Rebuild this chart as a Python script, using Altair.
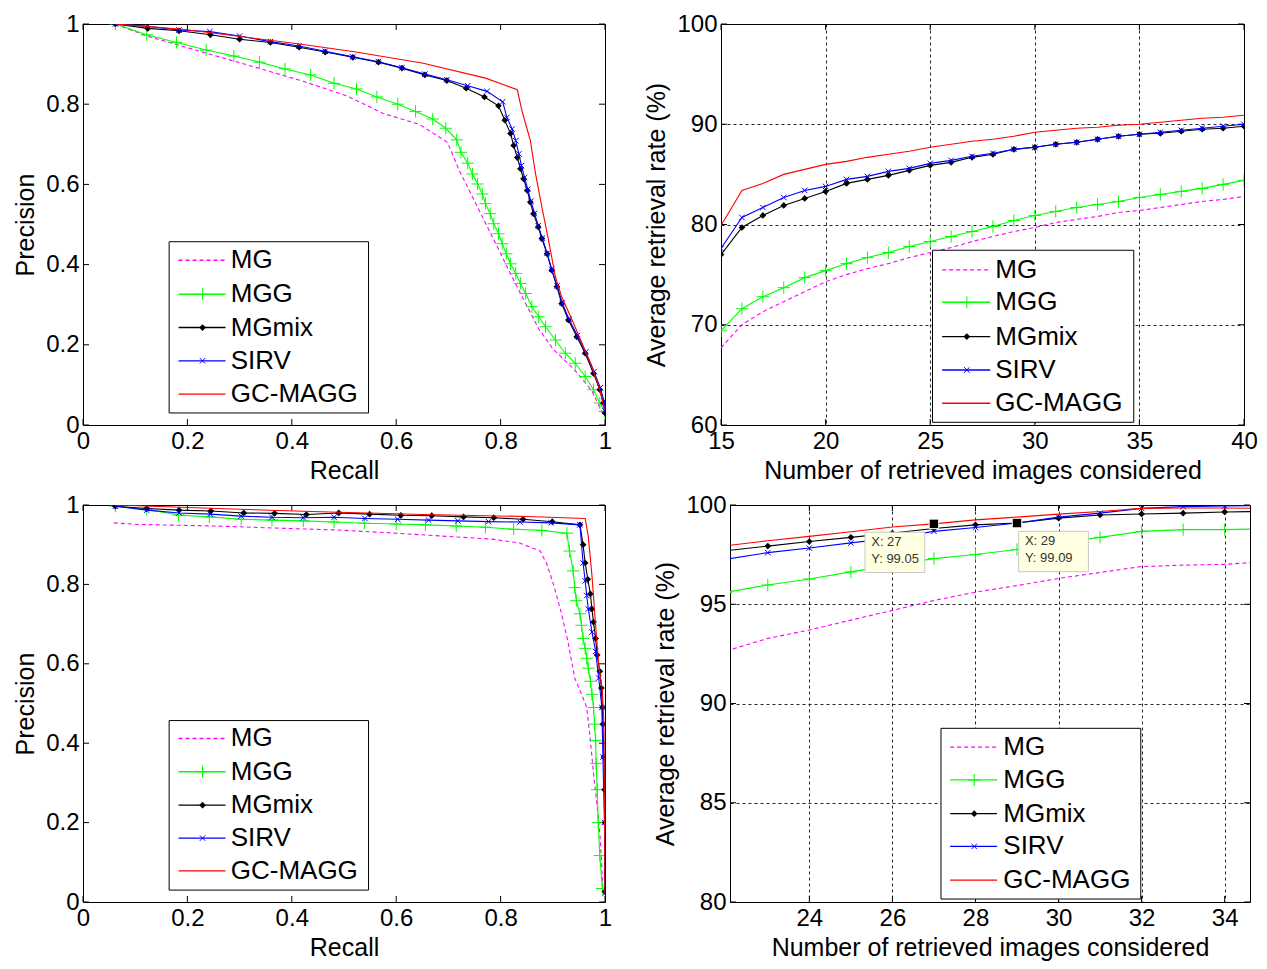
import altair as alt
import pandas as pd

SERIES = ["MG", "MGG", "MGmix", "SIRV", "GC-MAGG"]
COLORS = {"MG": "#ff00ff", "MGG": "#00ff00", "MGmix": "#000000",
          "SIRV": "#0000ff", "GC-MAGG": "#ff0000"}
DASH = {"MG": [4, 3]}
PLUS = "M-1,0L1,0M0,-1L0,1"
XMARK = "M-1,-1L1,1M-1,1L1,-1"
HLINE = "M-1,0L1,0"
MARKERS = {
    "MGG": dict(shape=PLUS, filled=False, size=150, strokeWidth=1),
    "MGmix": dict(shape="diamond", filled=True, size=45),
    "SIRV": dict(shape=XMARK, filled=False, size=30, strokeWidth=1),
}

# ---------------- top-left: precision / recall ----------------
tl_mg_r = [0.062, 0.125, 0.237, 0.336, 0.422, 0.507, 0.575, 0.644, 0.698, 0.705, 0.721, 0.737,
           0.756, 0.778, 0.797, 0.822, 0.848, 0.873, 0.900, 0.940, 0.975, 0.995]
tl_mg_p = [1.000, 0.969, 0.927, 0.890, 0.857, 0.820, 0.777, 0.750, 0.705, 0.684, 0.634, 0.593,
           0.543, 0.485, 0.436, 0.369, 0.303, 0.240, 0.190, 0.140, 0.085, 0.030]
tl_mgg_r = [0.062, 0.122, 0.179, 0.236, 0.289, 0.338, 0.387, 0.436, 0.481, 0.524, 0.563, 0.603,
            0.637, 0.670, 0.695, 0.716, 0.724, 0.737, 0.746, 0.756, 0.765, 0.771, 0.780, 0.787,
            0.796, 0.803, 0.811, 0.819, 0.829, 0.838, 0.848, 0.860, 0.873, 0.886, 0.905, 0.924,
            0.943, 0.962, 0.978, 0.990, 0.999]
tl_mgg_p = [1.000, 0.973, 0.954, 0.935, 0.920, 0.905, 0.888, 0.873, 0.852, 0.838, 0.818, 0.800,
            0.782, 0.763, 0.740, 0.711, 0.680, 0.653, 0.626, 0.601, 0.576, 0.552, 0.527, 0.502,
            0.477, 0.452, 0.427, 0.402, 0.378, 0.353, 0.328, 0.295, 0.270, 0.245, 0.212, 0.179,
            0.154, 0.121, 0.088, 0.055, 0.034]
tl_mix_r = [0.062, 0.124, 0.184, 0.244, 0.300, 0.359, 0.414, 0.464, 0.517, 0.566, 0.611, 0.655,
            0.697, 0.734, 0.769, 0.796, 0.808, 0.819, 0.825, 0.832, 0.838, 0.844, 0.851, 0.857,
            0.863, 0.872, 0.879, 0.889, 0.898, 0.908, 0.917, 0.930, 0.946, 0.962, 0.978, 0.990,
            0.997, 1.000]
tl_mix_p = [1.000, 0.989, 0.983, 0.973, 0.962, 0.954, 0.942, 0.930, 0.917, 0.905, 0.890, 0.873,
            0.859, 0.840, 0.818, 0.796, 0.760, 0.727, 0.697, 0.667, 0.639, 0.614, 0.585, 0.556,
            0.527, 0.494, 0.465, 0.427, 0.386, 0.345, 0.303, 0.262, 0.220, 0.179, 0.129, 0.088,
            0.055, 0.030]
tl_sirv_r = [0.062, 0.124, 0.184, 0.243, 0.300, 0.359, 0.414, 0.464, 0.517, 0.566, 0.611, 0.655,
             0.697, 0.737, 0.774, 0.804, 0.812, 0.822, 0.829, 0.835, 0.840, 0.846, 0.852, 0.858,
             0.865, 0.872, 0.880, 0.889, 0.898, 0.908, 0.918, 0.931, 0.947, 0.963, 0.979, 0.991,
             0.998, 1.000]
tl_sirv_p = [1.000, 0.994, 0.985, 0.981, 0.970, 0.956, 0.945, 0.932, 0.918, 0.906, 0.891, 0.875,
             0.861, 0.846, 0.832, 0.806, 0.767, 0.738, 0.709, 0.676, 0.647, 0.617, 0.588, 0.558,
             0.528, 0.497, 0.466, 0.428, 0.388, 0.347, 0.305, 0.264, 0.223, 0.182, 0.133, 0.093,
             0.060, 0.035]
tl_gc_r = [0.062, 0.191, 0.415, 0.520, 0.652, 0.771, 0.797, 0.832, 0.841, 0.857, 0.867, 0.879,
           0.892, 0.905, 0.917, 0.937, 0.956, 0.975, 0.990, 0.999]
tl_gc_p = [1.000, 0.987, 0.950, 0.931, 0.902, 0.865, 0.853, 0.836, 0.783, 0.709, 0.626, 0.544,
           0.460, 0.369, 0.320, 0.262, 0.204, 0.146, 0.088, 0.038]

# ---------------- bottom-left: precision / recall ----------------
bl_mg_r = [0.059, 0.105, 0.257, 0.389, 0.488, 0.586, 0.685, 0.784, 0.837, 0.876, 0.889, 0.902,
           0.916, 0.929, 0.942, 0.958, 0.965, 0.972, 0.978, 0.985, 0.991, 0.996]
bl_mg_p = [0.955, 0.951, 0.947, 0.941, 0.937, 0.930, 0.922, 0.914, 0.904, 0.884, 0.850, 0.797,
           0.730, 0.656, 0.564, 0.514, 0.490, 0.407, 0.324, 0.241, 0.158, 0.034]
bl_mgg_r = [0.062, 0.122, 0.183, 0.242, 0.303, 0.362, 0.422, 0.481, 0.539, 0.600, 0.656, 0.715,
            0.771, 0.825, 0.879, 0.927, 0.932, 0.939, 0.942, 0.945, 0.952, 0.955, 0.958, 0.962,
            0.965, 0.968, 0.972, 0.975, 0.978, 0.980, 0.982, 0.983, 0.985, 0.987, 0.990, 0.995]
bl_mgg_p = [0.997, 0.989, 0.975, 0.970, 0.964, 0.962, 0.960, 0.957, 0.954, 0.952, 0.950, 0.947,
            0.944, 0.939, 0.936, 0.929, 0.884, 0.834, 0.792, 0.759, 0.726, 0.697, 0.664, 0.639,
            0.614, 0.589, 0.556, 0.523, 0.490, 0.448, 0.407, 0.349, 0.283, 0.200, 0.117, 0.034]
bl_mix_r = [0.062, 0.122, 0.184, 0.245, 0.308, 0.367, 0.428, 0.490, 0.549, 0.609, 0.668, 0.729,
            0.787, 0.843, 0.899, 0.952, 0.958, 0.962, 0.967, 0.972, 0.975, 0.978, 0.982, 0.985,
            0.990, 0.993, 0.995, 0.996, 0.998, 0.999, 1.000, 1.000]
bl_mix_p = [0.997, 0.991, 0.987, 0.985, 0.980, 0.979, 0.976, 0.980, 0.977, 0.974, 0.973, 0.970,
            0.968, 0.964, 0.958, 0.950, 0.900, 0.854, 0.813, 0.776, 0.738, 0.705, 0.664, 0.622,
            0.581, 0.539, 0.490, 0.448, 0.365, 0.283, 0.200, 0.026]
bl_sirv_r = [0.062, 0.122, 0.184, 0.244, 0.303, 0.362, 0.422, 0.481, 0.540, 0.603, 0.662, 0.718,
             0.777, 0.837, 0.897, 0.952, 0.958, 0.962, 0.965, 0.968, 0.975, 0.982, 0.988, 0.994,
             0.996, 0.999, 1.000]
bl_sirv_p = [0.997, 0.987, 0.980, 0.977, 0.972, 0.969, 0.968, 0.969, 0.966, 0.964, 0.962, 0.960,
             0.958, 0.957, 0.955, 0.950, 0.854, 0.809, 0.772, 0.738, 0.680, 0.631, 0.564, 0.490,
             0.365, 0.200, 0.022]
bl_gc_r = [0.062, 0.257, 0.455, 0.652, 0.850, 0.962, 0.968, 0.975, 0.982, 0.988, 0.995, 0.998, 1.000]
bl_gc_p = [1.000, 0.991, 0.983, 0.976, 0.971, 0.966, 0.921, 0.822, 0.697, 0.597, 0.531, 0.448, 0.022]

# ---------------- top-right: retrieval rate, N = 15..40 ----------------
tr_n = list(range(15, 41))
tr_mg = [67.7, 70.0, 71.3, 72.3, 73.3, 74.3, 75.0, 75.6, 76.1, 76.7, 77.2, 77.7, 78.3,
         78.8, 79.3, 79.7, 80.2, 80.5, 80.8, 81.2, 81.4, 81.7, 82.0, 82.3, 82.5, 82.8]
tr_mgg = [69.4, 71.6, 72.8, 73.7, 74.7, 75.4, 76.1, 76.7, 77.2, 77.8, 78.3, 78.8, 79.3,
          79.8, 80.4, 80.9, 81.3, 81.7, 82.0, 82.3, 82.7, 83.0, 83.3, 83.6, 84.0, 84.4]
tr_mix = [77.0, 79.7, 80.9, 81.9, 82.6, 83.3, 84.1, 84.5, 84.9, 85.4, 85.9, 86.2, 86.7,
          87.0, 87.5, 87.7, 88.0, 88.2, 88.5, 88.8, 89.0, 89.1, 89.3, 89.5, 89.6, 89.8]
tr_sirv = [77.6, 80.7, 81.7, 82.7, 83.4, 83.8, 84.5, 84.8, 85.3, 85.6, 86.1, 86.4, 86.8,
           87.1, 87.5, 87.7, 88.0, 88.2, 88.5, 88.8, 89.0, 89.2, 89.4, 89.6, 89.8, 90.0]
tr_gc = [79.9, 83.4, 84.1, 85.0, 85.5, 86.0, 86.3, 86.7, 87.0, 87.3, 87.7, 88.0, 88.3,
         88.5, 88.8, 89.2, 89.4, 89.6, 89.7, 89.9, 90.0, 90.2, 90.4, 90.6, 90.7, 90.9]

# ---------------- bottom-right: retrieval rate, N = 22..35 ----------------
br_n = list(range(22, 36))
br_mg = [92.65, 93.28, 93.70, 94.20, 94.69, 95.19, 95.61, 95.94, 96.30, 96.60, 96.90, 96.97, 97.01, 97.15]
br_mgg = [95.60, 95.97, 96.27, 96.63, 96.97, 97.30, 97.51, 97.76, 98.09, 98.37, 98.67, 98.76, 98.76, 98.80]
br_mix = [97.70, 97.93, 98.16, 98.37, 98.59, 98.82, 99.00, 99.09, 99.34, 99.50, 99.55, 99.59, 99.65, 99.68]
br_sirv = [97.27, 97.60, 97.83, 98.09, 98.34, 98.67, 98.87, 99.09, 99.39, 99.59, 99.83, 99.92, 99.95, 99.97]
br_gc = [97.95, 98.20, 98.42, 98.65, 98.89, 99.05, 99.25, 99.39, 99.54, 99.67, 99.83, 99.85, 99.85, 99.83]

# data tips in the bottom-right panel
tip_x = [27, 29]
tip_y = [99.05, 99.09]

# axis ticks
pr_ticks = [0, 0.2, 0.4, 0.6, 0.8, 1]
tr_xticks = [15, 20, 25, 30, 35, 40]
tr_yticks = [60, 70, 80, 90, 100]
br_xticks = [24, 26, 28, 30, 32, 34]
br_yticks = [80, 85, 90, 95, 100]

FONT = "Liberation Sans"


def panel(pid, data, xdom, ydom, xticks, yticks, xtitle, ytitle, grid, leg, w, h, extra=None):
    xs = alt.Scale(domain=xdom, nice=False, zero=False)
    ys = alt.Scale(domain=ydom, nice=False, zero=False)
    xa = alt.Axis(values=xticks, title=xtitle, grid=grid, format="~r")
    ya = alt.Axis(values=yticks, title=ytitle, grid=grid, format="~r")

    def X(f):
        return alt.X(f, type="quantitative", scale=xs, axis=xa)

    def Y(f):
        return alt.Y(f, type="quantitative", scale=ys, axis=ya)

    layers = []
    # inward MATLAB-style ticks on all four sides
    lx = 6.0 / w * (xdom[1] - xdom[0])
    ly = 6.0 / h * (ydom[1] - ydom[0])
    rows = []
    for t in xticks:
        rows.append(dict(x=t, x2=t, y=ydom[0], y2=ydom[0] + ly))
        rows.append(dict(x=t, x2=t, y=ydom[1], y2=ydom[1] - ly))
    for t in yticks:
        rows.append(dict(x=xdom[0], x2=xdom[0] + lx, y=t, y2=t))
        rows.append(dict(x=xdom[1], x2=xdom[1] - lx, y=t, y2=t))
    tdf = pd.DataFrame(rows)
    tdf["panel"] = pid
    layers.append(alt.Chart(tdf).mark_rule(color="black", strokeWidth=1).encode(
        x=X("x"), x2="x2", y=Y("y"), y2="y2"))

    for s in SERIES:
        xv, yv = data[s]
        df = pd.DataFrame({"x": xv, "y": yv, "i": list(range(len(xv)))})
        df["panel"] = pid
        kw = dict(color=COLORS[s], strokeWidth=1.1, clip=True)
        if s in DASH:
            kw["strokeDash"] = DASH[s]
        layers.append(alt.Chart(df).mark_line(**kw).encode(x=X("x"), y=Y("y"), order="i:Q"))
        if s in MARKERS:
            layers.append(alt.Chart(df).mark_point(color=COLORS[s], clip=True, opacity=1,
                                                   **MARKERS[s]).encode(x=X("x"), y=Y("y")))

    if extra is not None:
        layers.extend(extra(X, Y))

    # legend: white box, labels, line samples (drawn as long horizontal symbols), markers
    box = pd.DataFrame([dict(x=leg["box"][0], x2=leg["box"][1], y=leg["box"][2], y2=leg["box"][3],
                             panel=pid)])
    layers.append(alt.Chart(box).mark_rect(fill="white", stroke="black", strokeWidth=1).encode(
        x=X("x"), x2="x2", y=Y("y"), y2="y2"))
    lab = pd.DataFrame({"x": [leg["tx"]] * 5, "y": leg["ys"], "s": SERIES, "panel": [pid] * 5})
    layers.append(alt.Chart(lab).mark_text(align="left", baseline="middle", fontSize=26, font=FONT,
                                           color="black").encode(x=X("x"), y=Y("y"), text="s:N"))
    seg_px = (leg["line"][1] - leg["line"][0]) / (xdom[1] - xdom[0]) * w
    cx = (leg["line"][0] + leg["line"][1]) / 2
    for k, s in enumerate(SERIES):
        sdf = pd.DataFrame({"x": [cx], "y": [leg["ys"][k]], "s": [s], "panel": [pid]})
        kw = dict(shape=HLINE, filled=False, size=seg_px ** 2, stroke=COLORS[s],
                  color=COLORS[s], strokeWidth=1.4, opacity=1)
        if s in DASH:
            kw["strokeDash"] = DASH[s]
        layers.append(alt.Chart(sdf).mark_point(**kw).encode(x=X("x"), y=Y("y")))
        if s in MARKERS:
            mk = pd.DataFrame({"x": [leg["mx"]], "y": [leg["ys"][k]], "s": [s], "panel": [pid]})
            layers.append(alt.Chart(mk).mark_point(color=COLORS[s], opacity=1,
                                                   **MARKERS[s]).encode(x=X("x"), y=Y("y")))
    return alt.layer(*layers).properties(width=w, height=h)


def tips(X, Y):
    offs = [(-1.66, -0.22), (0.04, 1.72)]
    rows = []
    for (tx, ty), (a, b) in zip(zip(tip_x, tip_y), offs):
        rows.append(dict(px=tx, py=ty, x=tx + a, x2=tx + b, y=ty - 0.42, y2=ty - 2.45,
                         tx=tx + a + 0.15, ty=ty - 0.62,
                         label=f"X: {tx}\nY: {ty:.2f}"))
    df = pd.DataFrame(rows)
    box = alt.Chart(df).mark_rect(fill="#ffffe1", stroke="#c8c8c8", strokeWidth=1).encode(
        x=X("x"), x2="x2", y=Y("y"), y2="y2")
    txt = alt.Chart(df).mark_text(align="left", baseline="top", fontSize=13, font=FONT,
                                  color="#333333", lineBreak="\n", lineHeight=17).encode(
        x=X("tx"), y=Y("ty"), text="label:N")
    sq = alt.Chart(df).mark_square(size=90, color="black", opacity=1, stroke="#ffffe1",
                                   strokeWidth=1).encode(x=X("px"), y=Y("py"))
    return [box, txt, sq]


tl_data = {"MG": (tl_mg_r, tl_mg_p), "MGG": (tl_mgg_r, tl_mgg_p), "MGmix": (tl_mix_r, tl_mix_p),
           "SIRV": (tl_sirv_r, tl_sirv_p), "GC-MAGG": (tl_gc_r, tl_gc_p)}
bl_data = {"MG": (bl_mg_r, bl_mg_p), "MGG": (bl_mgg_r, bl_mgg_p), "MGmix": (bl_mix_r, bl_mix_p),
           "SIRV": (bl_sirv_r, bl_sirv_p), "GC-MAGG": (bl_gc_r, bl_gc_p)}
tr_data = {"MG": (tr_n, tr_mg), "MGG": (tr_n, tr_mgg), "MGmix": (tr_n, tr_mix),
           "SIRV": (tr_n, tr_sirv), "GC-MAGG": (tr_n, tr_gc)}
br_data = {"MG": (br_n, br_mg), "MGG": (br_n, br_mgg), "MGmix": (br_n, br_mix),
           "SIRV": (br_n, br_sirv), "GC-MAGG": (br_n, br_gc)}

tl_leg = dict(box=(0.165, 0.547, 0.457, 0.030), line=(0.183, 0.273), mx=0.229, tx=0.283,
              ys=[0.411, 0.326, 0.243, 0.160, 0.077])
bl_leg = dict(box=(0.165, 0.547, 0.457, 0.030), line=(0.183, 0.273), mx=0.229, tx=0.283,
              ys=[0.412, 0.328, 0.244, 0.161, 0.0785])
tr_leg = dict(box=(25.11, 34.73, 77.43, 60.27), line=(25.57, 27.87), mx=26.75, tx=28.11,
              ys=[75.47, 72.24, 68.82, 65.49, 62.17])
br_leg = dict(box=(27.17, 31.98, 88.75, 80.15), line=(27.39, 28.52), mx=27.97, tx=28.67,
              ys=[87.80, 86.15, 84.45, 82.80, 81.10])

RATE = "Average retrieval rate (%)"
NUM = "Number of retrieved images considered"

tl = panel("tl", tl_data, [0, 1], [0, 1], pr_ticks, pr_ticks, "Recall", "Precision", False, tl_leg, 522, 401)
tr = panel("tr", tr_data, [15, 40], [60, 100], tr_xticks, tr_yticks, NUM, RATE, True, tr_leg, 523, 401)
bl = panel("bl", bl_data, [0, 1], [0, 1], pr_ticks, pr_ticks, "Recall", "Precision", False, bl_leg, 522, 397)
br = panel("br", br_data, [22.09, 34.61], [80, 100], br_xticks, br_yticks, NUM, RATE, True, br_leg, 520, 397,
           extra=tips)

chart = alt.vconcat(
    alt.hconcat(tl, tr, spacing=31),
    alt.hconcat(bl, br, spacing=40),
    spacing=8,
).properties(
    padding={"left": 5, "top": 3, "right": 0, "bottom": 0}, background="white"
).configure_view(
    stroke="black", strokeWidth=1
).configure_axis(
    labelFont=FONT, titleFont=FONT, labelFontSize=24, titleFontSize=25, titleFontWeight="normal",
    labelColor="black", titleColor="black", tickSize=0, domain=False, labelFlush=False,
    labelOverlap=False, labelPadding=4, titlePadding=5, gridColor="black", gridDash=[3, 3],
    gridOpacity=0.85, gridWidth=1
).configure_axisY(titlePadding=7)

chart.save("out.html", embed_options={"renderer": "svg", "actions": False})
